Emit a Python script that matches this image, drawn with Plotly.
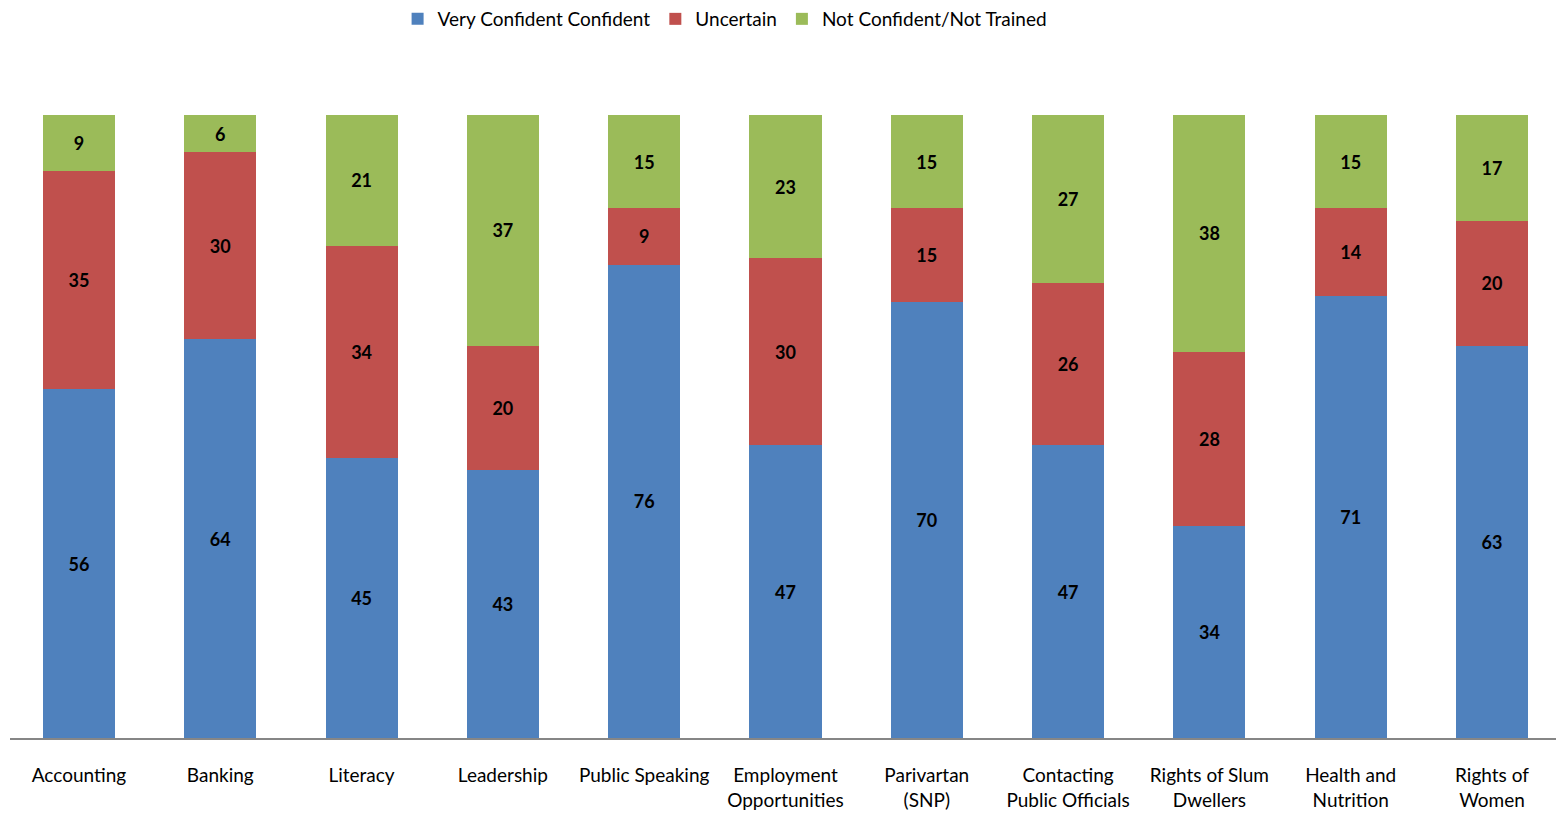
import plotly.graph_objects as go

categories = [
    "Accounting", "Banking", "Literacy", "Leadership", "Public Speaking",
    "Employment<br>Opportunities", "Parivartan<br>(SNP)", "Contacting<br>Public Officials",
    "Rights of Slum<br>Dwellers", "Health and<br>Nutrition", "Rights of<br>Women",
]
very_confident = [56, 64, 45, 43, 76, 47, 70, 47, 34, 71, 63]
uncertain = [35, 30, 34, 20, 9, 30, 15, 26, 28, 14, 20]
not_confident = [9, 6, 21, 37, 15, 23, 15, 27, 38, 15, 17]

series = [
    ("Very Confident Confident", very_confident, "#4F81BD"),
    ("Uncertain", uncertain, "#C0504D"),
    ("Not Confident/Not Trained", not_confident, "#9BBB59"),
]

FONT = "Lato, 'Open Sans', sans-serif"

fig = go.Figure()
for name, vals, color in series:
    fig.add_trace(go.Bar(
        x=list(range(len(categories))), y=vals, name=name,
        marker=dict(color=color, line=dict(width=0)),
        text=[str(v) for v in vals], textposition="inside",
        insidetextanchor="middle", textangle=0,
        textfont=dict(family=FONT, size=18, color="black", weight="bold"),
        hoverinfo="y+name",
    ))

fig.update_layout(
    barmode="stack", bargap=0.49,
    width=1556, height=815,
    margin=dict(l=10, r=0, t=115, b=77),
    plot_bgcolor="white", paper_bgcolor="white",
    font=dict(family=FONT, size=19, color="black"),
    uniformtext=dict(mode=False),
    legend=dict(orientation="h", xref="container", x=0.466, xanchor="center",
                yref="container", y=1.0, yanchor="top",
                font=dict(size=19), traceorder="normal"),
    xaxis=dict(showline=True, linecolor="#868686", linewidth=2, ticks="",
               tickmode="array", tickvals=list(range(len(categories))),
               ticktext=categories, range=[-0.488, 10.453],
               ticklabelstandoff=19, tickfont=dict(size=19)),
    yaxis=dict(range=[0, 100], visible=False, showgrid=False),
)

fig.write_html("out.html")
